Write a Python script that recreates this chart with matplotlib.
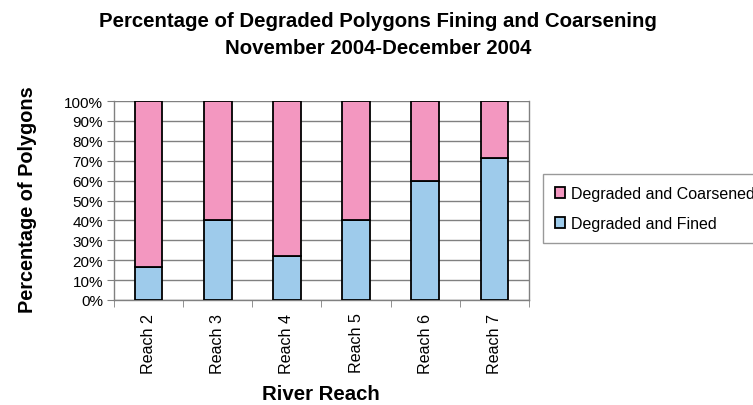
import matplotlib
matplotlib.use("Agg")
import matplotlib.pyplot as plt
import numpy as np

plt.rcParams['font.family'] = ['Liberation Sans', 'DejaVu Sans']

categories = ["Reach 2", "Reach 3", "Reach 4", "Reach 5", "Reach 6", "Reach 7"]
fined = [16.7, 40.0, 22.2, 40.0, 60.0, 71.4]
coarsened = [100 - v for v in fined]

fig = plt.figure(figsize=(7.53, 4.06), dpi=100)
ax = fig.add_axes([114/753, 1 - 301/406, (529-114)/753, (301-102)/406])

x = np.arange(len(categories))
blue = "#9ECBEB"
pink = "#F397C0"
ax.bar(x, fined, width=0.4, color=blue, edgecolor="black", linewidth=1.3, zorder=3,
       label="Degraded and Fined")
ax.bar(x, coarsened, width=0.4, bottom=fined, color=pink, edgecolor="black", linewidth=1.3,
       zorder=3, label="Degraded and Coarsened")

ax.set_xlim(-0.5, len(categories) - 0.5)
ax.set_ylim(0, 100)
ax.set_yticks(np.arange(0, 101, 10))
ax.set_yticklabels([f"{v}%" for v in range(0, 101, 10)], fontsize=11)
ax.yaxis.grid(True, color="#808080", linewidth=1.0, zorder=0)

ax.set_xticks(x)
ax.set_xticklabels(categories, rotation=90, fontsize=11.6)
ax.tick_params(axis='x', length=0, pad=9)
ax.set_xticks(np.arange(-0.5, len(categories), 1), minor=True)
ax.tick_params(axis='x', which='minor', length=5, color="#808080", direction='out')
ax.tick_params(axis='y', length=5, color="#808080", direction='out', pad=3)

ax.spines['top'].set_visible(False)
for s in ['left', 'bottom', 'right']:
    ax.spines[s].set_color("#808080")
    ax.spines[s].set_linewidth(1.0)

fig.text(378/753, 1 - 35/406, "Percentage of Degraded Polygons Fining and Coarsening\nNovember 2004-December 2004",
         ha='center', va='center', fontsize=14.7, fontweight='bold', linespacing=1.57)
fig.text(28/753, 1 - 200/406, "Percentage of Polygons", rotation=90, ha='center', va='center',
         fontsize=14.3, fontweight='bold')
fig.text(321/753, 1 - 395/406, "River Reach", ha='center', va='center', fontsize=14.7, fontweight='bold')

handles, labels = ax.get_legend_handles_labels()
leg = fig.legend(handles[::-1], labels[::-1], loc='upper left',
                 bbox_to_anchor=(543/753, 1 - 175/406), borderaxespad=0, fontsize=11.5, frameon=True,
                 fancybox=False, edgecolor="#808080", handlelength=0.65, handleheight=0.65,
                 handletextpad=0.35, labelspacing=0.95, borderpad=0.75)
leg.get_frame().set_linewidth(1.0)

fig.savefig("out.png", dpi=100)
